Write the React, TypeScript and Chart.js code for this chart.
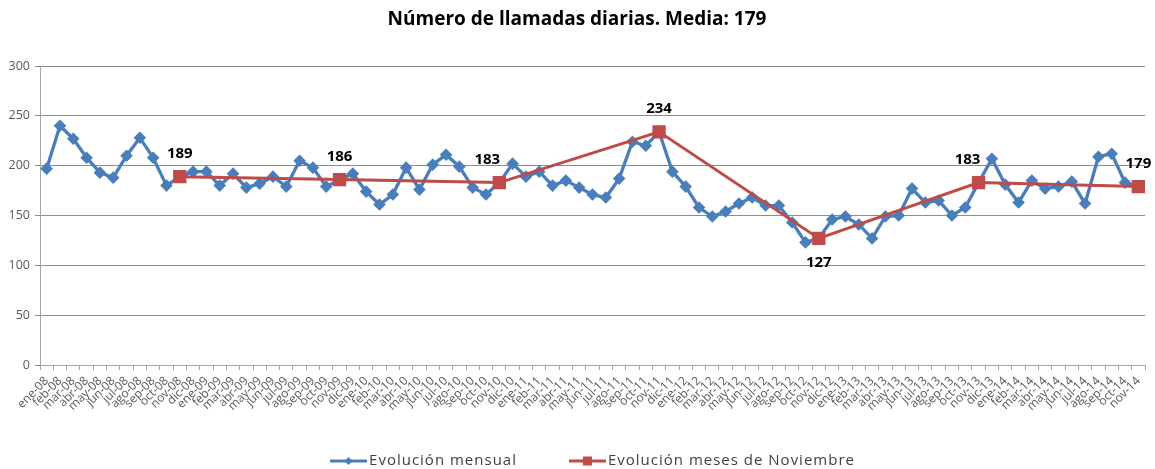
import React, { useEffect, useRef } from "react";
import { Chart, registerables } from "chart.js";

Chart.register(...registerables);

const FONT = "'Open Sans', sans-serif";

const monthLabels = [
  "ene-08", "feb-08", "mar-08", "abr-08", "may-08", "jun-08", "jul-08", "ago-08", "sep-08", "oct-08", "nov-08", "dic-08",
  "ene-09", "feb-09", "mar-09", "abr-09", "may-09", "jun-09", "jul-09", "ago-09", "sep-09", "oct-09", "nov-09", "dic-09",
  "ene-10", "feb-10", "mar-10", "abr-10", "may-10", "jun-10", "jul-10", "ago-10", "sep-10", "oct-10", "nov-10", "dic-10",
  "ene-11", "feb-11", "mar-11", "abr-11", "may-11", "jun-11", "jul-11", "ago-11", "sep-11", "oct-11", "nov-11", "dic-11",
  "ene-12", "feb-12", "mar-12", "abr-12", "may-12", "jun-12", "jul-12", "ago-12", "sep-12", "oct-12", "nov-12", "dic-12",
  "ene-13", "feb-13", "mar-13", "abr-13", "may-13", "jun-13", "jul-13", "ago-13", "sep-13", "oct-13", "nov-13", "dic-13",
  "ene-14", "feb-14", "mar-14", "abr-14", "may-14", "jun-14", "jul-14", "ago-14", "sep-14", "oct-14", "nov-14",
];

const monthlyValues = [
  197, 240, 227, 208, 193, 188, 210, 228, 208, 180, 189, 194,
  194, 180, 192, 178, 182, 189, 179, 205, 198, 179, 186, 192,
  174, 161, 171, 198, 176, 201, 211, 199, 178, 171, 183, 202,
  189, 194, 180, 185, 178, 171, 168, 187, 224, 220, 234, 194,
  179, 158, 149, 154, 162, 168, 160, 160, 143, 123, 127, 146,
  149, 141, 127, 149, 150, 177, 163, 165, 150, 158, 183, 207,
  181, 163, 185, 177, 179, 184, 162, 209, 212, 183, 179,
];

const novemberValues = [189, 186, 183, 234, 127, 183, 179];

const yTicks = [0, 50, 100, 150, 200, 250, 300];

const seriesNames = ["Evolución mensual", "Evolución meses de Noviembre"];
const titleText = "Número de llamadas diarias. Media: 179";

// label placement style for the November labels (horizontal shift, below?)
const novLabelShift = [0, 0, -12, 0, 0, -11, 0];
const novLabelBelow = [false, false, false, false, true, false, false];

const BLUE = "#4A7EBB";
const RED = "#BE4B48";

export default function App() {
  const ref = useRef<HTMLCanvasElement | null>(null);

  useEffect(() => {
    const canvas = ref.current;
    if (!canvas) return;

    let n = 0;
    const novSeries = monthLabels.map((l) => (l.startsWith("nov") ? novemberValues[n++] : null));

    const legendPlugin = {
      id: "customLegend",
      afterDraw(chart: any) {
        const ctx = chart.ctx;
        ctx.save();
        ctx.font = `15px ${FONT}`;
        (ctx as any).letterSpacing = "1px";
        ctx.textBaseline = "middle";
        const iconW = 37;
        const between = 52;
        const widths = seriesNames.map((t) => iconW + 2 + ctx.measureText(t).width);
        const total = widths.reduce((a, b) => a + b, 0) + between * (seriesNames.length - 1);
        let x = (chart.chartArea.left + chart.chartArea.right) / 2 - total / 2;
        const y = chart.height - 8;
        seriesNames.forEach((t, i) => {
          const color = i === 0 ? BLUE : RED;
          ctx.strokeStyle = color;
          ctx.fillStyle = color;
          ctx.lineWidth = 3;
          ctx.beginPath();
          ctx.moveTo(x, y);
          ctx.lineTo(x + iconW, y);
          ctx.stroke();
          const cx = x + iconW / 2;
          ctx.beginPath();
          if (i === 0) {
            ctx.moveTo(cx, y - 4);
            ctx.lineTo(cx + 4, y);
            ctx.lineTo(cx, y + 4);
            ctx.lineTo(cx - 4, y);
            ctx.closePath();
          } else {
            ctx.rect(cx - 4.5, y - 4.5, 9, 9);
          }
          ctx.fill();
          ctx.fillStyle = "#404040";
          ctx.textAlign = "left";
          ctx.fillText(t, x + iconW + 2, y);
          x += widths[i] + between;
        });
        ctx.restore();
      },
    };

    const labelPlugin = {
      id: "novLabels",
      afterDatasetsDraw(chart: any) {
        const ctx = chart.ctx;
        const meta = chart.getDatasetMeta(1);
        ctx.save();
        ctx.font = `bold 15px ${FONT}`;
        ctx.fillStyle = "#000";
        ctx.textAlign = "center";
        ctx.textBaseline = "middle";
        let k = 0;
        novSeries.forEach((v, i) => {
          if (v === null) return;
          const el = meta.data[i];
          const dy = novLabelBelow[k] ? 24 : -23;
          ctx.fillText(String(v), el.x + novLabelShift[k], el.y + dy);
          k++;
        });
        ctx.restore();
      },
    };

    const chart = new Chart(canvas, {
      type: "line",
      data: {
        labels: monthLabels,
        datasets: [
          {
            label: seriesNames[0],
            data: monthlyValues,
            borderColor: BLUE,
            backgroundColor: BLUE,
            borderWidth: 3.3,
            pointStyle: "rectRot",
            pointRadius: 6.3,
            pointBorderWidth: 0,
            pointBackgroundColor: BLUE,
            tension: 0,
            order: 2,
          },
          {
            label: seriesNames[1],
            data: novSeries,
            borderColor: RED,
            backgroundColor: RED,
            borderWidth: 3,
            pointStyle: "rect",
            pointRadius: 9.4,
            pointBorderWidth: 0,
            pointBackgroundColor: RED,
            spanGaps: true,
            tension: 0,
            order: 1,
          },
        ],
      },
      options: {
        animation: false,
        responsive: false,
        devicePixelRatio: 1,
        layout: { padding: { top: 0, left: 9, right: 10, bottom: 30 } },
        plugins: {
          legend: { display: false },
          tooltip: { enabled: false },
          title: {
            display: true,
            text: titleText,
            color: "#000",
            font: { family: FONT, size: 19, weight: "bold" },
            padding: { top: 8, bottom: 35.2 },
          },
        },
        scales: {
          x: {
            type: "category",
            offset: true,
            grid: {
              offset: true,
              drawOnChartArea: false,
              drawTicks: true,
              tickLength: 5,
              color: "#a6a6a6",
            },
            border: { color: "#a6a6a6", width: 1 },
            ticks: {
              autoSkip: false,
              maxRotation: 45,
              minRotation: 45,
              padding: 4,
              color: "#595959",
              font: { family: FONT, size: 12 },
            },
            afterFit: (s: any) => {
              s.height = 74;
            },
          },
          y: {
            min: 0,
            max: 300,
            afterBuildTicks: (s: any) => {
              s.ticks = yTicks.map((v) => ({ value: v }));
            },
            grid: { color: "#8c8c8c", tickLength: 5, drawTicks: true },
            border: { color: "#a6a6a6", width: 1 },
            ticks: {
              padding: 5,
              color: "#595959",
              font: { family: FONT, size: 12.5 },
            },
            afterFit: (s: any) => {
              s.width = 31;
            },
          },
        },
      },
      plugins: [labelPlugin, legendPlugin],
    });

    return () => chart.destroy();
  }, []);

  return (
    <div style={{ position: "fixed", left: 0, top: 0, width: 1155, height: 469, background: "#fff" }}>
      <canvas ref={ref} width={1155} height={469} style={{ width: 1155, height: 469, display: "block" }} />
    </div>
  );
}
